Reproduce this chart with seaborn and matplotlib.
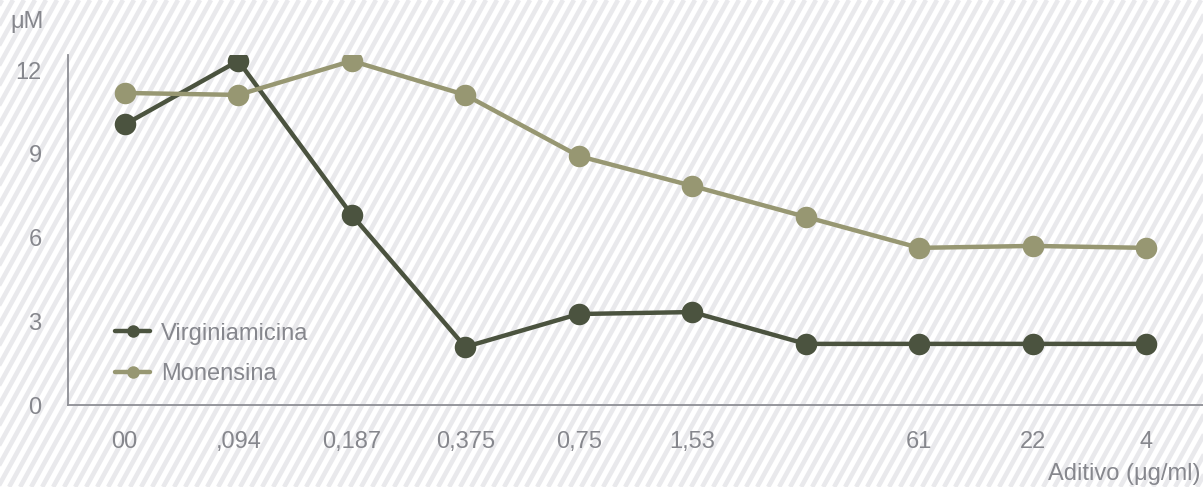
import numpy as np
import pandas as pd
import matplotlib
matplotlib.use("Agg")
import matplotlib.pyplot as plt
import seaborn as sns
from matplotlib.collections import LineCollection
from matplotlib.lines import Line2D

# ---- data ----
categories = ["00", ",094", "0,187", "0,375", "0,75", "1,53", "", "61", "22", "4"]
virginiamicina = [10.05, 12.33, 6.81, 2.08, 3.26, 3.33, 2.19, 2.19, 2.19, 2.19]
monensina = [11.18, 11.11, 12.33, 11.11, 8.92, 7.85, 6.74, 5.63, 5.70, 5.63]
series_names = ["Virginiamicina", "Monensina"]
yticks = [0, 3, 6, 9, 12]

sns.set_theme(style="white")
plt.rcParams["font.family"] = ["Liberation Sans", "DejaVu Sans"]

TXT = "#86878d"
AX = "#8e8f95"
C_DARK = "#4b533f"
C_LIGHT = "#979772"
FS = 17

W, H = 1203, 487
fig = plt.figure(figsize=(W / 100, H / 100), dpi=100, facecolor="white")

# background diagonal stripes
bg = fig.add_axes([0, 0, 1, 1], zorder=0)
bg.set_xlim(0, W)
bg.set_ylim(0, H)
bg.axis("off")
period = 11
slope_dx = 0.55  # dx per dy
segs = []
x0 = -H * slope_dx - 20
while x0 < W + 20:
    segs.append([(x0, 0), (x0 + H * slope_dx, H)])
    x0 += period
bg.add_collection(LineCollection(segs, colors="#e9e9ec", linewidths=3.3))

# main axes
left = 68 / W
bottom = (H - 405) / H
top = (H - 55) / H
ax = fig.add_axes([left, bottom, 1 - left, top - bottom], zorder=1)
ax.set_facecolor("none")

df = pd.DataFrame({
    "x": list(range(len(categories))) * 2,
    "value": virginiamicina + monensina,
    "serie": [series_names[0]] * len(categories) + [series_names[1]] * len(categories),
})

sns.lineplot(data=df, x="x", y="value", hue="serie", palette=[C_DARK, C_LIGHT],
             marker="o", markersize=15.5, markeredgewidth=0, linewidth=3.2,
             ax=ax, legend=False, zorder=3)

ax.set_xlim(-0.5, len(categories) - 0.5)
ax.set_ylim(0, 12.54)
ax.set_xticks(range(len(categories)))
ax.set_xticklabels(categories)
ax.set_yticks(yticks)
ax.set_yticklabels([str(v) for v in yticks])
ax.tick_params(axis="both", length=0, labelsize=FS, labelcolor=TXT)
ax.tick_params(axis="y", pad=19)
ax.tick_params(axis="x", pad=19)
ax.set_xlabel("")
ax.set_ylabel("")
for s in ["top", "right"]:
    ax.spines[s].set_visible(False)
for s in ["left", "bottom"]:
    ax.spines[s].set_color(AX)
    ax.spines[s].set_linewidth(1.3)
ax.grid(False)

# legend
handles = [Line2D([0], [0], color=C_DARK, lw=3.2, marker="o", markersize=9, markeredgewidth=0),
           Line2D([0], [0], color=C_LIGHT, lw=3.2, marker="o", markersize=9, markeredgewidth=0)]
leg = ax.legend(handles, series_names, loc="lower left", bbox_to_anchor=(0.033, 0.03),
                frameon=False, fontsize=FS, handlelength=1.5, handletextpad=0.45,
                labelspacing=0.78, borderaxespad=0)
for t in leg.get_texts():
    t.set_color(TXT)

fig.text(10 / W, 1 - 22 / H, "μM", fontsize=FS, color=TXT, ha="left", va="center")
fig.text(1 - 2 / W, 1 - 474 / H, "Aditivo (μg/ml)", fontsize=FS, color=TXT,
         ha="right", va="center")

fig.savefig("out.png", dpi=100, facecolor="white")
